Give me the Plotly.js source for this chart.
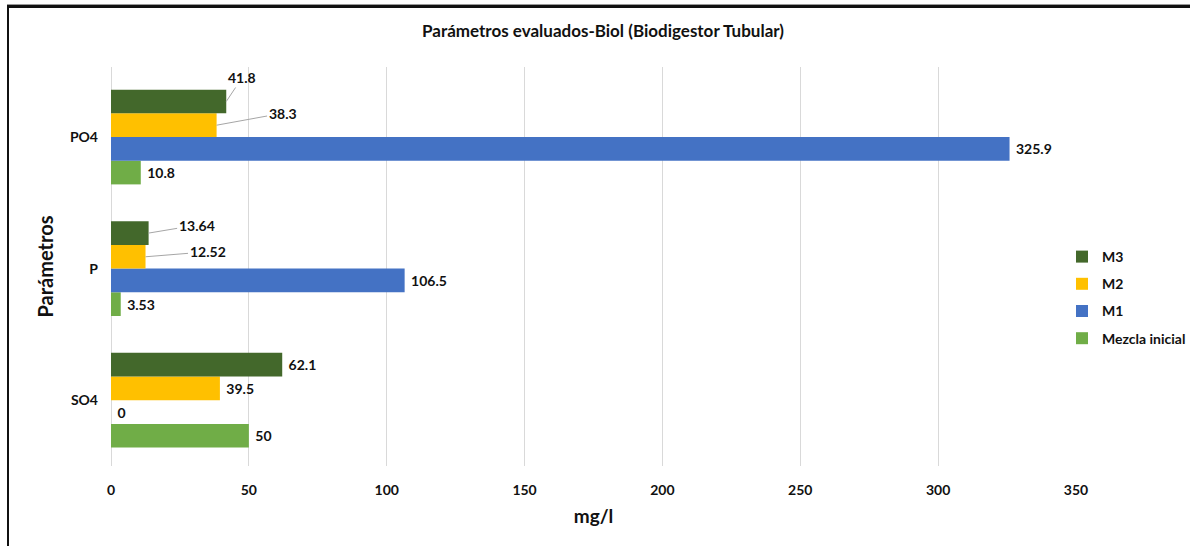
<!DOCTYPE html>
<html>
<head>
<meta charset="utf-8">
<script src="https://cdn.plot.ly/plotly-3.0.1.min.js"></script>
<style>
  html, body { margin: 0; padding: 0; background: #fff; }
  #wrap { position: relative; width: 1190px; height: 546px; }
  #chart { position: absolute; left: 0; top: 0; width: 1190px; height: 546px; }
  #frame { position: absolute; left: 7px; top: 5px; width: 1183px; height: 541px;
           border-top: 3px solid #111; border-left: 2px solid #111; pointer-events: none;
           box-shadow: 0 -1px 0 #999; }
</style>
</head>
<body>
<div id="wrap"><div id="chart"></div><div id="frame"></div></div>
<script>
// Data
const categories = ['SO4', 'P', 'PO4'];
const seriesNames = ['Mezcla inicial', 'M1', 'M2', 'M3'];
const mezclaInicial = [50, 3.53, 10.8];
const m1 = [0, 106.5, 325.9];
const m2 = [39.5, 12.52, 38.3];
const m3 = [62.1, 13.64, 41.8];
const xTicks = [0, 50, 100, 150, 200, 250, 300, 350];

const colors = ['#70ad47', '#4472c4', '#ffc000', '#43682b'];
const values = [mezclaInicial, m1, m2, m3];

// labels drawn with leader lines (series index, category index, ax, ay)
const leader = [
  [3, 2, 16, -24],
  [2, 2, 66, -12],
  [3, 1, 48, -8],
  [2, 1, 62, -5]
];
const isLeader = (s, c) => leader.some(l => l[0] === s && l[1] === c);

const font = 'Lato, "Open Sans", sans-serif';
const bargap = 0.28;
const barW = (1 - bargap) / 4;

const traces = values.map((vals, s) => ({
  type: 'bar',
  orientation: 'h',
  name: seriesNames[s],
  y: categories,
  x: vals,
  marker: { color: colors[s], line: { width: 0 } },
  text: vals.map((v, c) => isLeader(s, c) ? '' : '\u00a0' + v),
  textposition: 'outside',
  cliponaxis: false,
  textfont: { family: font, size: 14, color: '#111', weight: 'bold' },
  legendgroup: 'g' + s,
  legendrank: 4 - s,
  hoverinfo: 'x+name'
}));

const annotations = leader.map(([s, c, ax, ay]) => ({
  x: values[s][c],
  y: c + (s - 1.5) * barW,
  xref: 'x', yref: 'y',
  text: '<b>' + values[s][c] + '</b>',
  showarrow: true, arrowhead: 0, arrowwidth: 1, arrowcolor: '#a6a6a6',
  ax: ax, ay: ay, standoff: 0,
  font: { family: font, size: 14, color: '#111' }
}));

const layout = {
  width: 1190, height: 546,
  paper_bgcolor: '#fff', plot_bgcolor: '#fff',
  margin: { l: 111, r: 114, t: 67, b: 80, autoexpand: false },
  barmode: 'group',
  bargap: bargap, bargroupgap: 0,
  title: {
    text: '<b>Parámetros evaluados-Biol (Biodigestor Tubular)</b>',
    font: { family: font, size: 17, color: '#111' },
    x: 603 / 1190, xanchor: 'center', xref: 'container',
    y: 1 - 31 / 546, yref: 'container', yanchor: 'middle'
  },
  xaxis: {
    range: [0, 350],
    tickvals: xTicks,
    ticktext: xTicks.map(v => '<b>' + v + '</b>'),
    showgrid: true, gridcolor: '#d9d9d9', gridwidth: 1,
    zeroline: true, zerolinecolor: '#d9d9d9', zerolinewidth: 1,
    showline: false, ticks: '',
    ticklabelstandoff: 14,
    tickfont: { family: font, size: 14, color: '#111' },
    title: { text: '<b>mg/l</b>', font: { family: font, size: 19, color: '#111' }, standoff: 12 },
    fixedrange: true
  },
  yaxis: {
    type: 'category',
    categoryorder: 'array', categoryarray: categories,
    tickvals: categories,
    ticktext: categories.map(c => '<b>' + c + '</b>'),
    showgrid: false, zeroline: false, showline: false, ticks: '',
    ticklabelstandoff: 12,
    tickfont: { family: font, size: 14, color: '#111' },
    title: { text: '<b>Parámetros</b>', font: { family: font, size: 20, color: '#111' }, standoff: 10 },
    fixedrange: true
  },
  showlegend: true,
  legend: {
    xref: 'container', yref: 'container',
    x: 1062 / 1190, xanchor: 'left', y: 1 - 297.5 / 546, yanchor: 'middle',
    traceorder: 'grouped', tracegroupgap: 6,
    font: { family: font, size: 14, color: '#111', weight: 'bold' },
    bgcolor: 'rgba(0,0,0,0)'
  },
  annotations: annotations
};

Plotly.newPlot('chart', traces, layout, { displayModeBar: false, staticPlot: true });
</script>
</body>
</html>
